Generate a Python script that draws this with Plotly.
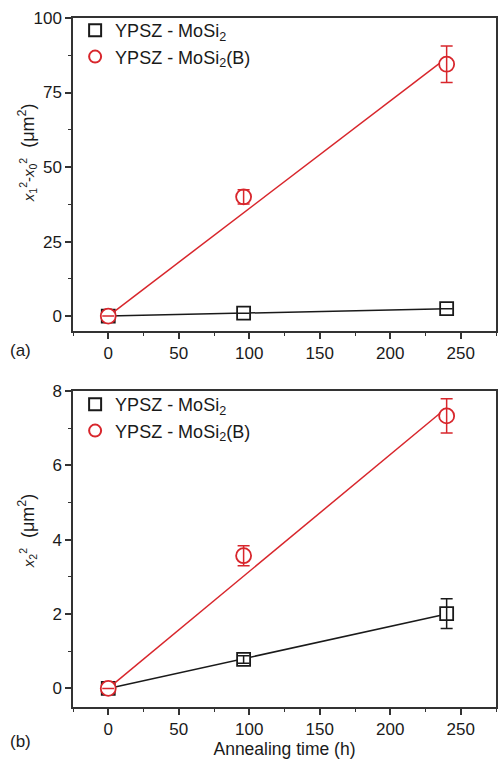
import numpy as np
import plotly.graph_objects as go

# ---- data ----
time_h = [0, 96, 240]

# panel (a): x1^2 - x0^2 (um^2)
a_mosi2 = [0.0, 1.0, 2.5]
a_mosi2_err = [0.0, 0.0, 0.0]
a_mosi2b = [0.0, 40.0, 84.5]
a_mosi2b_err = [0.0, 2.4, 6.1]

# panel (b): x2^2 (um^2)
b_mosi2 = [0.0, 0.78, 2.01]
b_mosi2_err = [0.0, 0.1, 0.4]
b_mosi2b = [0.0, 3.57, 7.33]
b_mosi2b_err = [0.0, 0.27, 0.46]

names = ["YPSZ - MoSi<sub>2</sub>", "YPSZ - MoSi<sub>2</sub>(B)"]

x_ticks = [0, 50, 100, 150, 200, 250]
ya_ticks = [0, 25, 50, 75, 100]
yb_ticks = [0, 2, 4, 6, 8]

RED = "#d8262c"
BLACK = "#1a1a1a"
FONT = "Arial, 'Liberation Sans', sans-serif"


def fit_origin(x, y):
    x = np.asarray(x, float)
    y = np.asarray(y, float)
    k = float((x * y).sum() / (x * x).sum())
    return [x.min(), x.max()], [k * x.min(), k * x.max()]


fig = go.Figure()

panels = [
    ("x", "y", a_mosi2, a_mosi2_err, a_mosi2b, a_mosi2b_err, "legend"),
    ("x2", "y2", b_mosi2, b_mosi2_err, b_mosi2b, b_mosi2b_err, "legend2"),
]

for xa, ya, s1, e1, s2, e2, lg in panels:
    for vals, errs, color, sym, size, name in [
        (s1, e1, BLACK, "square", 13, names[0]),
        (s2, e2, RED, "circle", 15, names[1]),
    ]:
        fx, fy = fit_origin(time_h, vals)
        fig.add_trace(go.Scatter(
            x=fx, y=fy, mode="lines", xaxis=xa, yaxis=ya,
            line=dict(color=color, width=1.5), showlegend=False, hoverinfo="skip"))
        fig.add_trace(go.Scatter(
            x=time_h, y=vals, mode="markers", xaxis=xa, yaxis=ya, name=name,
            legend=lg,
            marker=dict(symbol=sym, size=size, color="white",
                        line=dict(color=color, width=1.8))))
        # error bars drawn on top of the open markers
        fig.add_trace(go.Scatter(
            x=time_h, y=vals, mode="markers", xaxis=xa, yaxis=ya,
            showlegend=False, hoverinfo="skip",
            marker=dict(size=0.1, color="rgba(0,0,0,0)"),
            error_y=dict(type="data", array=errs, visible=True, color=color,
                         thickness=1.5, width=6)))

axis_common = dict(
    showline=True, linecolor="#333333", linewidth=1.5, mirror=True,
    ticks="outside", ticklen=6, tickwidth=1.5, tickcolor="#333333",
    showgrid=False, zeroline=False,
    tickfont=dict(family=FONT, size=17, color="#1a1a1a"),
)

x_minor = dict(ticks="outside", ticklen=3.5, tickwidth=1.3, tickcolor="#333333", dtick=25)

fig.update_layout(
    width=500, height=760,
    margin=dict(l=73, r=2, t=18, b=53),
    paper_bgcolor="white", plot_bgcolor="white",
    font=dict(family=FONT, size=17, color="#1a1a1a"),
    xaxis=dict(axis_common, range=[-25, 275], tickvals=x_ticks, anchor="y",
               domain=[0, 1], minor=x_minor),
    yaxis=dict(axis_common, range=[-5, 100], tickvals=ya_ticks, anchor="x",
               domain=[0.5457, 1],
               minor=dict(ticks="outside", ticklen=3.5, tickwidth=1.3,
                          tickcolor="#333333", dtick=12.5, tick0=0)),
    xaxis2=dict(axis_common, range=[-25, 275], tickvals=x_ticks, anchor="y2",
                domain=[0, 1], minor=x_minor,
                title=dict(text="Annealing time (h)", standoff=4,
                           font=dict(family=FONT, size=17.5))),
    yaxis2=dict(axis_common, range=[-0.5, 8], tickvals=yb_ticks, anchor="x2",
                domain=[0, 0.4586],
                minor=dict(ticks="outside", ticklen=3.5, tickwidth=1.3,
                           tickcolor="#333333", dtick=1, tick0=0)),
    legend=dict(x=0.005, y=1.0 + 6 / 689, xanchor="left", yanchor="top",
                bgcolor="rgba(0,0,0,0)", font=dict(family=FONT, size=18),
                tracegroupgap=0, itemsizing="constant"),
    legend2=dict(x=0.005, y=0.4586 + 5 / 689, xanchor="left", yanchor="top",
                 bgcolor="rgba(0,0,0,0)", font=dict(family=FONT, size=18),
                 tracegroupgap=0, itemsizing="constant"),
    showlegend=True,
)

small = "<span style='font-size:15px'>"
fig.add_annotation(
    text=small + "<i>x</i><sub>1</sub><sup>2</sup>-<i>x</i><sub>0</sub><sup>2</sup></span>  (μm<sup>2</sup>)",
    xref="paper", yref="paper", x=(27 - 73) / 425, y=(707 - 153) / 689,
    xanchor="center", yanchor="middle", textangle=-90, showarrow=False,
    font=dict(family=FONT, size=18))
fig.add_annotation(
    text=small + "<i>x</i><sub>2</sub><sup>2</sup></span>  (μm<sup>2</sup>)",
    xref="paper", yref="paper", x=(27 - 73) / 425, y=(707 - 531) / 689,
    xanchor="center", yanchor="middle", textangle=-90, showarrow=False,
    font=dict(family=FONT, size=18))
fig.add_annotation(text="(a)", xref="paper", yref="paper",
                   x=(20 - 73) / 425, y=(707 - 350) / 689,
                   xanchor="center", yanchor="middle", showarrow=False,
                   font=dict(family=FONT, size=17))
fig.add_annotation(text="(b)", xref="paper", yref="paper",
                   x=(20 - 73) / 425, y=(707 - 742) / 689,
                   xanchor="center", yanchor="middle", showarrow=False,
                   font=dict(family=FONT, size=17))

fig.write_html("out.html", config={"displayModeBar": False},
               post_script="document.body.style.margin='0';")
